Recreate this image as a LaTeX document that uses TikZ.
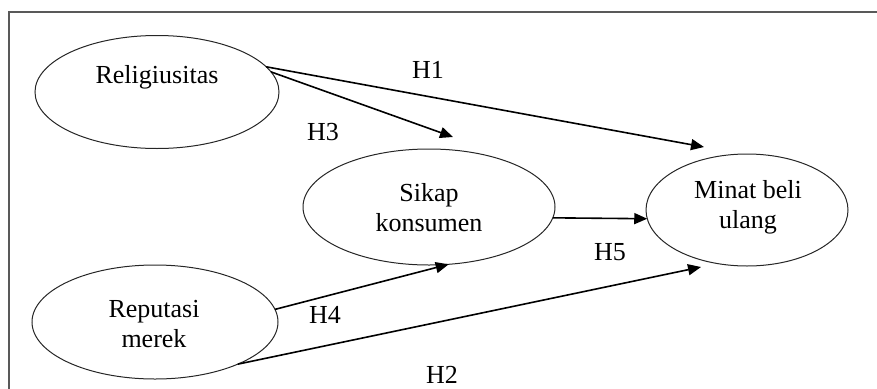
\documentclass[tikz,border=0pt]{standalone}
\usepackage{fontspec}
\setmainfont{Liberation Serif}
\usetikzlibrary{shapes.geometric,arrows.meta}
\begin{document}
\begin{tikzpicture}[x=1pt,y=-1pt,
  var/.style={ellipse,draw=black!85,line width=1pt,inner sep=0pt,outer sep=0pt},
  lbl/.style={font=\fontsize{26}{30}\selectfont,align=center,inner sep=0pt},
  arr/.style={line width=1.6pt,-{Triangle[length=13pt,width=11pt]}},
  frame/.style={draw=black!65,line width=2pt}]
\useasboundingbox (0,0) rectangle (877,388);
\draw[frame] (9,392) -- (9,12) -- (880,12);
% ellipses
\node[var,minimum width=244pt,minimum height=113pt] (rel) at (157,92) {};
\node[var,minimum width=246pt,minimum height=114pt] (rep) at (155,322) {};
\node[var,minimum width=252pt,minimum height=116pt] (sik) at (429,207) {};
\node[var,minimum width=202pt,minimum height=112pt] (min) at (747,210) {};
% texts
\node[lbl] (trel) at (157,77) {Religiusitas};
\node[lbl] (trep) at (154,324) {Reputasi\\merek};
\node[lbl] (tsik) at (429,208) {Sikap\\konsumen};
\node[lbl] (tmin) at (748,207) {Minat beli\\ulang};
% arrow tips
\coordinate (e1) at (704,147);
\coordinate (e3) at (453,137);
\coordinate (e2) at (701,267);
% connectors
\draw[arr] (rel.13) -- (e1);
\draw[arr] (rel.10) -- (e3);
\draw[arr] (sik.-5.5) -- (min.185);
\draw[arr] (rep.6.6) -- (sik.-71);
\draw[arr] (rep.-27.5) -- (e2);
% labels
\node[lbl] (h1) at (428,70) {H1};
\node[lbl] (h3) at (323,132) {H3};
\node[lbl] (h5) at (610,252) {H5};
\node[lbl] (h4) at (325,315) {H4};
\node[lbl] (h2) at (442,375) {H2};
\end{tikzpicture}
\end{document}
